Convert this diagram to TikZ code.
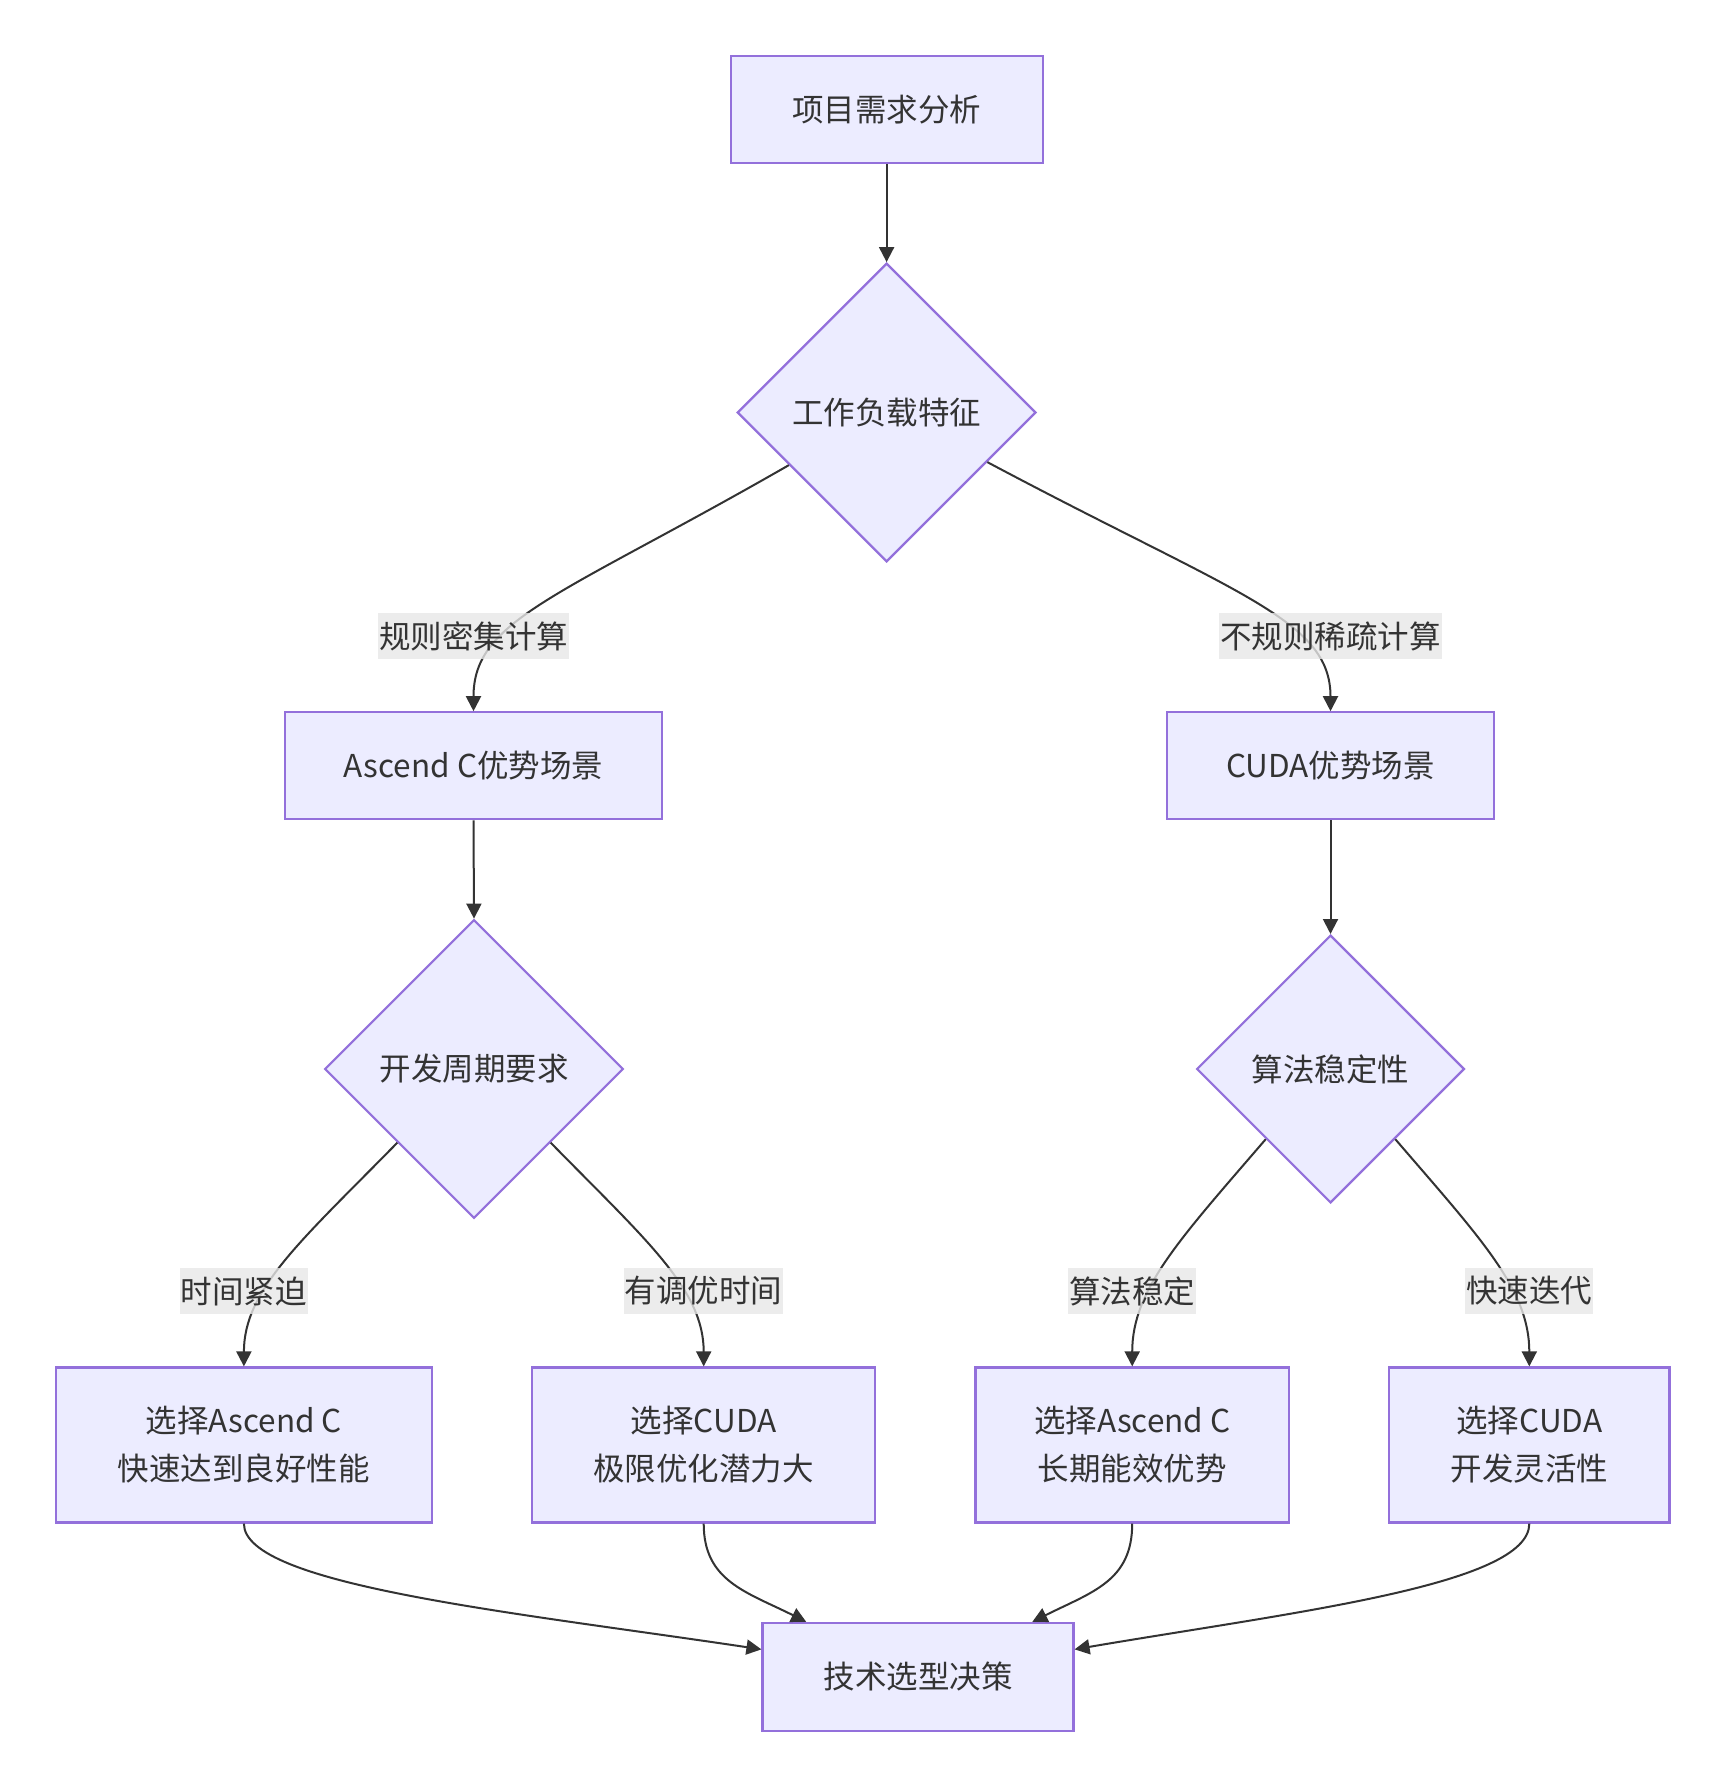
\documentclass[tikz,border=0pt]{standalone}
\usepackage{fontspec}
\setmainfont{Noto Sans CJK SC}
\usetikzlibrary{shapes.geometric,arrows.meta,calc}
\definecolor{nodefill}{HTML}{ECECFF}
\definecolor{nodeline}{HTML}{9370DB}
\definecolor{edgecol}{HTML}{333333}
\definecolor{lblfill}{HTML}{E8E8E8}
\tikzset{
  base/.style={draw=nodeline, fill=nodefill, line width=2.2pt, text=edgecol,
    font=\fontsize{31.5}{47.9}\selectfont, inner sep=0pt, align=center},
  procbox/.style={base, rectangle},
  decbox/.style={base, diamond, aspect=1, minimum width=#1, minimum height=#1},
  lbl/.style={fill=lblfill, fill opacity=0.8, text opacity=1, text=edgecol,
    font=\fontsize{31.5}{36}\selectfont, inner xsep=1pt, inner ysep=0pt,
    minimum height=45.6pt},
  conn/.style={draw=edgecol, line width=2pt, -{Triangle[width=15pt,length=15pt]}},
}
\begin{document}
\begin{tikzpicture}[x=1pt,y=-1pt]
\useasboundingbox[fill=white] (0,0) rectangle (1725,1787);
% nodes
\node[procbox, minimum width=312pt, minimum height=107pt] (b1) at (886.6,109.4) {项目需求分析};
\node[decbox=298.6pt] (d1) at (886.6,412.5) {工作负载特征};
\node[procbox, minimum width=377pt, minimum height=107pt] (b2) at (473.5,765.8) {Ascend C优势场景};
\node[procbox, minimum width=327pt, minimum height=107pt] (b3) at (1330.5,765.8) {CUDA优势场景};
\node[decbox=298.6pt] (d2) at (474,1069) {开发周期要求};
\node[decbox=267.8pt] (d3) at (1330.5,1069) {算法稳定性};
\node[procbox, minimum width=376pt, minimum height=155pt] (b4) at (243.9,1445) {选择Ascend C\\快速达到良好性能};
\node[procbox, minimum width=343pt, minimum height=155pt] (b5) at (703.7,1445) {选择CUDA\\极限优化潜力大};
\node[procbox, minimum width=313.4pt, minimum height=155pt] (b6) at (1132.2,1445) {选择Ascend C\\长期能效优势};
\node[procbox, minimum width=280.3pt, minimum height=155pt] (b7) at (1529.3,1445) {选择CUDA\\开发灵活性};
\node[procbox, minimum width=311pt, minimum height=108pt] (b8) at (918,1676.9) {技术选型决策};
% connector end points
\coordinate (d1l) at ($(d1.west)!0.35!(d1.south)$);
\coordinate (d1r) at ($(d1.east)!0.33!(d1.south)$);
\coordinate (d2l) at ($(d2.west)!0.49!(d2.south)$);
\coordinate (d2r) at ($(d2.east)!0.49!(d2.south)$);
\coordinate (d3l) at ($(d3.west)!0.52!(d3.south)$);
\coordinate (d3r) at ($(d3.east)!0.52!(d3.south)$);
\coordinate (b8w) at ($(b8.north west)!0.25!(b8.south west)$);
\coordinate (b8e) at ($(b8.north east)!0.25!(b8.south east)$);
\coordinate (b8nl) at ($(b8.north west)!0.143!(b8.north east)$);
\coordinate (b8nr) at ($(b8.north west)!0.865!(b8.north east)$);
% connectors
\draw[conn] (b1.south) -- (d1.north);
\draw[conn] (d1l) .. controls +(-230,132) and +(0,-92) .. (b2.north);
\draw[conn] (d1r) .. controls +(250,133) and +(0,-92) .. (b3.north);
\draw[conn] (b2.south) -- (d2.north);
\draw[conn] (b3.south) -- (d3.north);
\draw[conn] (d2l) .. controls +(-96,98) and +(0,-77) .. (b4.north);
\draw[conn] (d2r) .. controls +(96,98) and +(0,-77) .. (b5.north);
\draw[conn] (d3l) .. controls +(-86,100) and +(0,-77) .. (b6.north);
\draw[conn] (d3r) .. controls +(86,100) and +(0,-77) .. (b7.north);
\draw[conn] (b4.south) .. controls +(0,61.5) and +(-249.6,-37.4) .. (b8w);
\draw[conn] (b5.south) .. controls +(0,57.5) and +(-60,-30) .. (b8nl);
\draw[conn] (b6.south) .. controls +(0,57.5) and +(60,-30) .. (b8nr);
\draw[conn] (b7.south) .. controls +(0,61.5) and +(219.3,-37.4) .. (b8e);
% edge labels
\node[lbl] (l1) at (473.5,636) {规则密集计算};
\node[lbl] (l2) at (1330.5,636) {不规则稀疏计算};
\node[lbl] (l3) at (243.9,1291) {时间紧迫};
\node[lbl] (l4) at (703.7,1291) {有调优时间};
\node[lbl] (l5) at (1132.2,1291) {算法稳定};
\node[lbl] (l6) at (1529.3,1291) {快速迭代};
\end{tikzpicture}
\end{document}
